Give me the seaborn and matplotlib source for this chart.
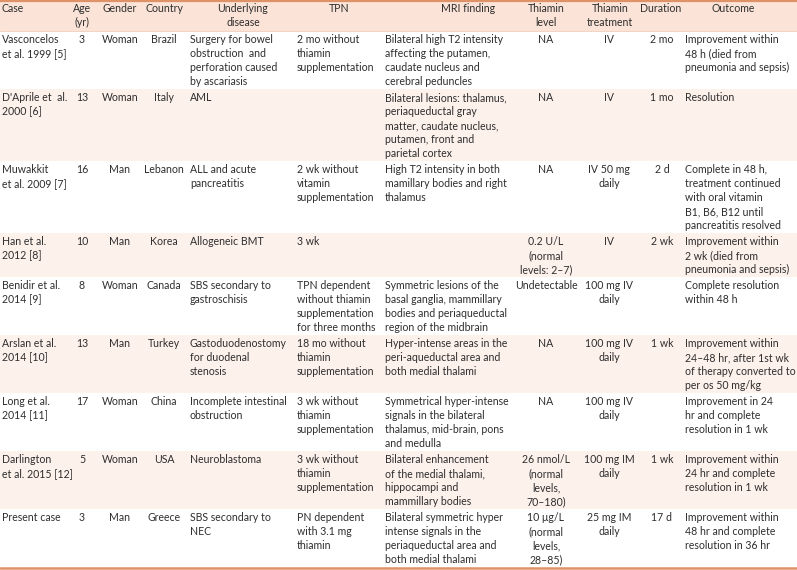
import matplotlib
matplotlib.use('Agg')
import matplotlib.pyplot as plt
import seaborn as sns

headers = ['Case', 'Age\n(yr)', 'Gender', 'Country', 'Underlying\ndisease', 'TPN',
           'MRI finding', 'Thiamin\nlevel', 'Thiamin\ntreatment', 'Duration', 'Outcome']

cases = ['Vasconcelos\net al. 1999 [5]', "D'Aprile et  al.\n2000 [6]", 'Muwakkit\net al. 2009 [7]',
         'Han et al.\n2012 [8]', 'Benidir et al.\n2014 [9]', 'Arslan et al.\n2014 [10]',
         'Long et al.\n2014 [11]', 'Darlington\net al. 2015 [12]', 'Present case']
ages = ['3', '13', '16', '10', '8', '13', '17', '5', '3']
genders = ['Woman', 'Woman', 'Man', 'Man', 'Woman', 'Man', 'Woman', 'Woman', 'Man']
countries = ['Brazil', 'Italy', 'Lebanon', 'Korea', 'Canada', 'Turkey', 'China', 'USA', 'Greece']
diseases = ['Surgery for bowel\nobstruction  and\nperforation caused\nby ascariasis', 'AML',
            'ALL and acute\npancreatitis', 'Allogeneic BMT', 'SBS secondary to\ngastroschisis',
            'Gastoduodenostomy\nfor duodenal\nstenosis', 'Incomplete intestinal\nobstruction',
            'Neuroblastoma', 'SBS secondary to\nNEC']
tpn = ['2 mo without\nthiamin\nsupplementation', '', '2 wk without\nvitamin\nsupplementation', '3 wk',
       'TPN dependent\nwithout thiamin\nsupplementation\nfor three months',
       '18 mo without\nthiamin\nsupplementation', '3 wk without\nthiamin\nsupplementation',
       '3 wk without\nthiamin\nsupplementation', 'PN dependent\nwith 3.1 mg\nthiamin']
mri = ['Bilateral high T2 intensity\naffecting the putamen,\ncaudate nucleus and\ncerebral peduncles',
       'Bilateral lesions: thalamus,\nperiaqueductal gray\nmatter, caudate nucleus,\nputamen, front and\nparietal cortex',
       'High T2 intensity in both\nmamillary bodies and right\nthalamus', '',
       'Symmetric lesions of the\nbasal ganglia, mammillary\nbodies and periaqueductal\nregion of the midbrain',
       'Hyper-intense areas in the\nperi-aqueductal area and\nboth medial thalami',
       'Symmetrical hyper-intense\nsignals in the bilateral\nthalamus, mid-brain, pons\nand medulla',
       'Bilateral enhancement\nof the medial thalami,\nhippocampi and\nmammillary bodies',
       'Bilateral symmetric hyper\nintense signals in the\nperiaqueductal area and\nboth medial thalami']
levels = ['NA', 'NA', 'NA', '0.2 U/L\n(normal\nlevels: 2–7)', 'Undetectable', 'NA', 'NA',
          '26 nmol/L\n(normal\nlevels,\n70–180)', '10 μg/L\n(normal\nlevels,\n28–85)']
treatments = ['IV', 'IV', 'IV 50 mg\ndaily', 'IV', '100 mg IV\ndaily', '100 mg IV\ndaily',
              '100 mg IV\ndaily', '100 mg IM\ndaily', '25 mg IM\ndaily']
durations = ['2 mo', '1 mo', '2 d', '2 wk', '', '1 wk', '', '1 wk', '17 d']
outcomes = ['Improvement within\n48 h (died from\npneumonia and sepsis)', 'Resolution',
            'Complete in 48 h,\ntreatment continued\nwith oral vitamin\nB1, B6, B12 until\npancreatitis resolved',
            'Improvement within\n2 wk (died from\npneumonia and sepsis)', 'Complete resolution\nwithin 48 h',
            'Improvement within\n24–48 hr, after 1st wk\nof therapy converted to\nper os 50 mg/kg',
            'Improvement in 24\nhr and complete\nresolution in 1 wk',
            'Improvement within\n24 hr and complete\nresolution in 1 wk',
            'Improvement within\n48 hr and complete\nresolution in 36 hr']

columns = [cases, ages, genders, countries, diseases, tpn, mri, levels, treatments, durations, outcomes]

# column anchor (x in px) and alignment for body / header
col_x = [2, 82, 120, 164, 190, 297, 385, 546, 609, 662, 685]
col_ha = ['left', 'center', 'center', 'center', 'left', 'left', 'left', 'center', 'center', 'center', 'left']
head_x = [2, 82, 120, 164, 243, 339, 468, 546, 610, 661, 733]
head_ha = ['left', 'center', 'center', 'center', 'center', 'center', 'center', 'center', 'center', 'center', 'center']

LINE = 14.0
PAD = 2.0
HEAD_H = 31.0
TXT = '#2e2e2e'
EDGE = '#df9168'
HEAD_BG = '#fbe4d7'
STRIPE = '#fdf1eb'

sns.set_theme(style='white')
plt.rcParams['font.family'] = ['Lato', 'DejaVu Sans']
FS = 7.6

fig = plt.figure(figsize=(7.97, 5.70), dpi=100)
ax = fig.add_axes([0, 0, 1, 1])
ax.set_xlim(0, 797)
ax.set_ylim(570, 0)
ax.axis('off')


def put(x, top, txt, ha):
    for i, line in enumerate(txt.split('\n')):
        ax.text(x, top + 11.5 + i * LINE, line, ha=ha, va='baseline',
                fontsize=FS, color=TXT)


# header
ax.axhspan(0, HEAD_H, color=HEAD_BG, lw=0)
for x, h, ha in zip(head_x, headers, head_ha):
    put(x, 0, h, ha)

top = HEAD_H
for r in range(len(cases)):
    n = max(col[r].count('\n') + 1 for col in columns)
    h = n * LINE + PAD
    if r % 2 == 1:
        ax.axhspan(top, top + h, color=STRIPE, lw=0)
    for col, x, ha in zip(columns, col_x, col_ha):
        put(x, top + 0.5, col[r], ha)
    top += h

ax.axhline(1, color=EDGE, lw=1.6)
ax.axhline(HEAD_H, color='#f3cdb9', lw=0.6)
ax.axhline(top + 1, color=EDGE, lw=1.8)

fig.savefig('out.png', dpi=100)
